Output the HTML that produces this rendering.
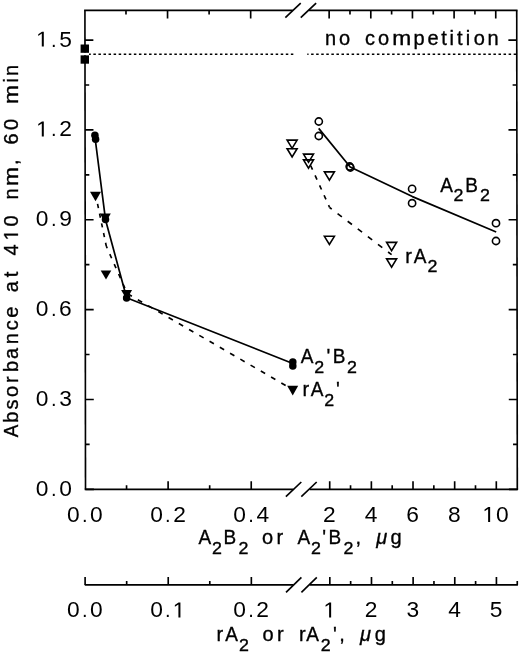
<!DOCTYPE html>
<html><head><meta charset="utf-8"><style>
html,body{margin:0;padding:0;background:#fff;width:520px;height:652px;overflow:hidden}
svg{display:block;filter:grayscale(1)}
</style></head><body>
<svg width="520" height="652" viewBox="0 0 520 652">
<rect width="520" height="652" fill="#fff"/>
<g transform="translate(-0.5872,0) skewX(0.06875)">
<g stroke="#000" stroke-width="1.65" fill="none" stroke-linecap="butt">
<path d="M85.5,10.4 V489.3"/>
<path d="M517.3,10.4 V489.3"/>
<path d="M84.675,10.4 H293.3 M309.6,10.4 H518.125"/>
<path d="M285.90000000000003,17.7 L301.3,3.1000000000000005"/>
<path d="M301.3,17.7 L316.7,3.1000000000000005"/>
<path d="M84.675,489.3 H293.3 M309.6,489.3 H518.125"/>
<path d="M285.90000000000003,496.6 L301.3,482.0"/>
<path d="M301.3,496.6 L316.7,482.0"/>
<path d="M85.5,489.30 h8.4 M517.3,489.30 h-8.4"/>
<path d="M85.5,444.38 h4.2 M517.3,444.38 h-4.2"/>
<path d="M85.5,399.45 h8.4 M517.3,399.45 h-8.4"/>
<path d="M85.5,354.53 h4.2 M517.3,354.53 h-4.2"/>
<path d="M85.5,309.60 h8.4 M517.3,309.60 h-8.4"/>
<path d="M85.5,264.68 h4.2 M517.3,264.68 h-4.2"/>
<path d="M85.5,219.75 h8.4 M517.3,219.75 h-8.4"/>
<path d="M85.5,174.82 h4.2 M517.3,174.82 h-4.2"/>
<path d="M85.5,129.90 h8.4 M517.3,129.90 h-8.4"/>
<path d="M85.5,84.98 h4.2 M517.3,84.98 h-4.2"/>
<path d="M85.5,40.05 h8.4 M517.3,40.05 h-8.4"/>
<path d="M126.56,489.3 v-4 M126.56,10.4 v4"/>
<path d="M168.12,489.3 v-8 M168.12,10.4 v8"/>
<path d="M209.68,489.3 v-4 M209.68,10.4 v4"/>
<path d="M251.24,489.3 v-8 M251.24,10.4 v8"/>
<path d="M329.72,489.3 v-8 M329.72,10.4 v8"/>
<path d="M350.55,489.3 v-4 M350.55,10.4 v4"/>
<path d="M371.38,489.3 v-8 M371.38,10.4 v8"/>
<path d="M392.20,489.3 v-4 M392.20,10.4 v4"/>
<path d="M413.02,489.3 v-8 M413.02,10.4 v8"/>
<path d="M433.85,489.3 v-4 M433.85,10.4 v4"/>
<path d="M454.67,489.3 v-8 M454.67,10.4 v8"/>
<path d="M475.50,489.3 v-4 M475.50,10.4 v4"/>
<path d="M496.32,489.3 v-8 M496.32,10.4 v8"/>
</g>
<g stroke="#000" stroke-width="1.65" fill="none">
<path d="M84.675,584.9 H293.3 M309.6,584.9 H517.8"/>
<path d="M285.90000000000003,592.4 L301.3,577.4"/>
<path d="M301.3,592.4 L316.7,577.4"/>
<path d="M85.00,584.9 v-8"/>
<path d="M126.56,584.9 v-4"/>
<path d="M168.12,584.9 v-8"/>
<path d="M209.68,584.9 v-4"/>
<path d="M251.24,584.9 v-8"/>
<path d="M329.72,584.9 v-8"/>
<path d="M350.55,584.9 v-4"/>
<path d="M371.38,584.9 v-8"/>
<path d="M392.20,584.9 v-4"/>
<path d="M413.02,584.9 v-8"/>
<path d="M433.85,584.9 v-4"/>
<path d="M454.67,584.9 v-8"/>
<path d="M475.50,584.9 v-4"/>
<path d="M496.32,584.9 v-8"/>
<path d="M517.15,584.9 v-4"/>
</g>
</g>
<g fill="#000">
<text font-family="Liberation Sans, sans-serif" stroke="#000" stroke-width="0.0" font-size="21.5" transform="translate(42.100,495.800) scale(1.06,1.0)" x="-5.979">0</text>
<text font-family="Liberation Sans, sans-serif" stroke="#000" stroke-width="0.0" font-size="20" transform="translate(53.800,495.800)" x="-2.778">.</text>
<text font-family="Liberation Sans, sans-serif" stroke="#000" stroke-width="0.0" font-size="21.5" transform="translate(65.500,495.800) scale(1.06,1.0)" x="-5.979">0</text>
<text font-family="Liberation Sans, sans-serif" stroke="#000" stroke-width="0.0" font-size="21.5" transform="translate(42.100,405.950) scale(1.06,1.0)" x="-5.979">0</text>
<text font-family="Liberation Sans, sans-serif" stroke="#000" stroke-width="0.0" font-size="20" transform="translate(53.800,405.950)" x="-2.778">.</text>
<text font-family="Liberation Sans, sans-serif" stroke="#000" stroke-width="0.0" font-size="21.5" transform="translate(65.500,405.950) scale(1.06,1.0)" x="-5.916">3</text>
<text font-family="Liberation Sans, sans-serif" stroke="#000" stroke-width="0.0" font-size="21.5" transform="translate(42.100,316.100) scale(1.06,1.0)" x="-5.979">0</text>
<text font-family="Liberation Sans, sans-serif" stroke="#000" stroke-width="0.0" font-size="20" transform="translate(53.800,316.100)" x="-2.778">.</text>
<text font-family="Liberation Sans, sans-serif" stroke="#000" stroke-width="0.0" font-size="21.5" transform="translate(65.500,316.100) scale(1.06,1.0)" x="-6.052">6</text>
<text font-family="Liberation Sans, sans-serif" stroke="#000" stroke-width="0.0" font-size="21.5" transform="translate(42.100,226.250) scale(1.06,1.0)" x="-5.979">0</text>
<text font-family="Liberation Sans, sans-serif" stroke="#000" stroke-width="0.0" font-size="20" transform="translate(53.800,226.250)" x="-2.778">.</text>
<text font-family="Liberation Sans, sans-serif" stroke="#000" stroke-width="0.0" font-size="21.5" transform="translate(65.500,226.250) scale(1.06,1.0)" x="-5.973">9</text>
<path transform="translate(36.062,136.400) scale(0.01113,-0.01050)" d="M515,0 L515,1237 L197,1010 L197,1180 L530,1409 L696,1409 L696,0 Z" stroke="#000" stroke-width="0.00"/>
<text font-family="Liberation Sans, sans-serif" stroke="#000" stroke-width="0.0" font-size="20" transform="translate(53.800,136.400)" x="-2.778">.</text>
<text font-family="Liberation Sans, sans-serif" stroke="#000" stroke-width="0.0" font-size="21.5" transform="translate(65.500,136.400) scale(1.06,1.0)" x="-5.979">2</text>
<path transform="translate(36.062,46.550) scale(0.01113,-0.01050)" d="M515,0 L515,1237 L197,1010 L197,1180 L530,1409 L696,1409 L696,0 Z" stroke="#000" stroke-width="0.00"/>
<text font-family="Liberation Sans, sans-serif" stroke="#000" stroke-width="0.0" font-size="20" transform="translate(53.800,46.550)" x="-2.778">.</text>
<text font-family="Liberation Sans, sans-serif" stroke="#000" stroke-width="0.0" font-size="21.5" transform="translate(65.500,46.550) scale(1.06,1.0)" x="-5.958">5</text>
<text font-family="Liberation Sans, sans-serif" stroke="#000" stroke-width="0.0" font-size="21.5" transform="translate(73.400,521.900) scale(1.06,1.0)" x="-5.979">0</text>
<text font-family="Liberation Sans, sans-serif" stroke="#000" stroke-width="0.0" font-size="20" transform="translate(84.700,521.900)" x="-2.778">.</text>
<text font-family="Liberation Sans, sans-serif" stroke="#000" stroke-width="0.0" font-size="21.5" transform="translate(96.450,521.900) scale(1.06,1.0)" x="-5.979">0</text>
<text font-family="Liberation Sans, sans-serif" stroke="#000" stroke-width="0.0" font-size="21.5" transform="translate(156.520,521.900) scale(1.06,1.0)" x="-5.979">0</text>
<text font-family="Liberation Sans, sans-serif" stroke="#000" stroke-width="0.0" font-size="20" transform="translate(167.820,521.900)" x="-2.778">.</text>
<text font-family="Liberation Sans, sans-serif" stroke="#000" stroke-width="0.0" font-size="21.5" transform="translate(179.570,521.900) scale(1.06,1.0)" x="-5.979">2</text>
<text font-family="Liberation Sans, sans-serif" stroke="#000" stroke-width="0.0" font-size="21.5" transform="translate(239.640,521.900) scale(1.06,1.0)" x="-5.979">0</text>
<text font-family="Liberation Sans, sans-serif" stroke="#000" stroke-width="0.0" font-size="20" transform="translate(250.940,521.900)" x="-2.778">.</text>
<text font-family="Liberation Sans, sans-serif" stroke="#000" stroke-width="0.0" font-size="21.5" transform="translate(262.690,521.900) scale(1.06,1.0)" x="-5.910">4</text>
<text font-family="Liberation Sans, sans-serif" stroke="#000" stroke-width="0.0" font-size="21.5" transform="translate(329.425,521.900) scale(1.06,1.0)" x="-5.979">2</text>
<text font-family="Liberation Sans, sans-serif" stroke="#000" stroke-width="0.0" font-size="21.5" transform="translate(371.075,521.900) scale(1.06,1.0)" x="-5.910">4</text>
<text font-family="Liberation Sans, sans-serif" stroke="#000" stroke-width="0.0" font-size="21.5" transform="translate(412.725,521.900) scale(1.06,1.0)" x="-6.052">6</text>
<text font-family="Liberation Sans, sans-serif" stroke="#000" stroke-width="0.0" font-size="21.5" transform="translate(454.375,521.900) scale(1.06,1.0)" x="-5.979">8</text>
<path transform="translate(482.387,521.900) scale(0.01113,-0.01050)" d="M515,0 L515,1237 L197,1010 L197,1180 L530,1409 L696,1409 L696,0 Z" stroke="#000" stroke-width="0.00"/>
<text font-family="Liberation Sans, sans-serif" stroke="#000" stroke-width="0.0" font-size="21.5" transform="translate(502.225,521.900) scale(1.06,1.0)" x="-5.979">0</text>
<text font-family="Liberation Sans, sans-serif" stroke="#000" stroke-width="0.0" font-size="21.5" transform="translate(73.400,617.400) scale(1.06,1.0)" x="-5.979">0</text>
<text font-family="Liberation Sans, sans-serif" stroke="#000" stroke-width="0.0" font-size="20" transform="translate(84.700,617.400)" x="-2.778">.</text>
<text font-family="Liberation Sans, sans-serif" stroke="#000" stroke-width="0.0" font-size="21.5" transform="translate(96.450,617.400) scale(1.06,1.0)" x="-5.979">0</text>
<text font-family="Liberation Sans, sans-serif" stroke="#000" stroke-width="0.0" font-size="21.5" transform="translate(156.520,617.400) scale(1.06,1.0)" x="-5.979">0</text>
<text font-family="Liberation Sans, sans-serif" stroke="#000" stroke-width="0.0" font-size="20" transform="translate(167.820,617.400)" x="-2.778">.</text>
<path transform="translate(172.682,617.400) scale(0.01113,-0.01050)" d="M515,0 L515,1237 L197,1010 L197,1180 L530,1409 L696,1409 L696,0 Z" stroke="#000" stroke-width="0.00"/>
<text font-family="Liberation Sans, sans-serif" stroke="#000" stroke-width="0.0" font-size="21.5" transform="translate(239.640,617.400) scale(1.06,1.0)" x="-5.979">0</text>
<text font-family="Liberation Sans, sans-serif" stroke="#000" stroke-width="0.0" font-size="20" transform="translate(250.940,617.400)" x="-2.778">.</text>
<text font-family="Liberation Sans, sans-serif" stroke="#000" stroke-width="0.0" font-size="21.5" transform="translate(262.690,617.400) scale(1.06,1.0)" x="-5.979">2</text>
<path transform="translate(323.387,617.400) scale(0.01113,-0.01050)" d="M515,0 L515,1237 L197,1010 L197,1180 L530,1409 L696,1409 L696,0 Z" stroke="#000" stroke-width="0.00"/>
<text font-family="Liberation Sans, sans-serif" stroke="#000" stroke-width="0.0" font-size="21.5" transform="translate(371.175,617.400) scale(1.06,1.0)" x="-5.979">2</text>
<text font-family="Liberation Sans, sans-serif" stroke="#000" stroke-width="0.0" font-size="21.5" transform="translate(412.825,617.400) scale(1.06,1.0)" x="-5.916">3</text>
<text font-family="Liberation Sans, sans-serif" stroke="#000" stroke-width="0.0" font-size="21.5" transform="translate(454.475,617.400) scale(1.06,1.0)" x="-5.910">4</text>
<text font-family="Liberation Sans, sans-serif" stroke="#000" stroke-width="0.0" font-size="21.5" transform="translate(496.125,617.400) scale(1.06,1.0)" x="-5.958">5</text>
</g>
<g fill="#000">
<text font-family="Liberation Sans, sans-serif" stroke="#000" stroke-width="0.35" font-size="20" transform="translate(17.900,430.900) rotate(-90) scale(0.95,1.045)" x="-6.670">A</text>
<text font-family="Liberation Sans, sans-serif" stroke="#000" stroke-width="0.35" font-size="20" transform="translate(17.900,417.000) rotate(-90)" x="-5.786">b</text>
<text font-family="Liberation Sans, sans-serif" stroke="#000" stroke-width="0.35" font-size="20" transform="translate(17.900,404.600) rotate(-90)" x="-4.917">s</text>
<text font-family="Liberation Sans, sans-serif" stroke="#000" stroke-width="0.35" font-size="20" transform="translate(17.900,391.400) rotate(-90)" x="-5.562">o</text>
<text font-family="Liberation Sans, sans-serif" stroke="#000" stroke-width="0.35" font-size="20" transform="translate(17.900,379.250) rotate(-90)" x="-3.828">r</text>
<text font-family="Liberation Sans, sans-serif" stroke="#000" stroke-width="0.35" font-size="20" transform="translate(17.900,366.300) rotate(-90)" x="-5.786">b</text>
<text font-family="Liberation Sans, sans-serif" stroke="#000" stroke-width="0.35" font-size="20" transform="translate(17.900,352.900) rotate(-90)" x="-5.986">a</text>
<text font-family="Liberation Sans, sans-serif" stroke="#000" stroke-width="0.35" font-size="20" transform="translate(17.900,338.600) rotate(-90)" x="-5.576">n</text>
<text font-family="Liberation Sans, sans-serif" stroke="#000" stroke-width="0.35" font-size="20" transform="translate(17.900,325.050) rotate(-90)" x="-5.161">c</text>
<text font-family="Liberation Sans, sans-serif" stroke="#000" stroke-width="0.35" font-size="20" transform="translate(17.900,312.200) rotate(-90)" x="-5.542">e</text>
<text font-family="Liberation Sans, sans-serif" stroke="#000" stroke-width="0.35" font-size="20" transform="translate(17.900,286.300) rotate(-90)" x="-5.986">a</text>
<text font-family="Liberation Sans, sans-serif" stroke="#000" stroke-width="0.35" font-size="20" transform="translate(17.900,274.400) rotate(-90)" x="-2.856">t</text>
<text font-family="Liberation Sans, sans-serif" stroke="#000" stroke-width="0.35" font-size="20" transform="translate(17.900,249.900) rotate(-90)" x="-5.498">4</text>
<path transform="translate(17.9,234.6) rotate(-90) translate(-5.913,0) scale(0.00977,-0.00977)" d="M515,0 L515,1237 L197,1010 L197,1180 L530,1409 L696,1409 L696,0 Z" stroke="#000" stroke-width="35.84"/>
<text font-family="Liberation Sans, sans-serif" stroke="#000" stroke-width="0.35" font-size="20" transform="translate(17.900,220.900) rotate(-90)" x="-5.562">0</text>
<text font-family="Liberation Sans, sans-serif" stroke="#000" stroke-width="0.35" font-size="20" transform="translate(17.900,194.000) rotate(-90)" x="-5.576">n</text>
<text font-family="Liberation Sans, sans-serif" stroke="#000" stroke-width="0.35" font-size="20" transform="translate(17.900,176.550) rotate(-90) scale(1.14,1.0)" x="-8.335">m</text>
<text font-family="Liberation Sans, sans-serif" stroke="#000" stroke-width="0.35" font-size="20" transform="translate(17.900,162.300) rotate(-90)" x="-2.778">,</text>
<text font-family="Liberation Sans, sans-serif" stroke="#000" stroke-width="0.35" font-size="20" transform="translate(17.900,138.750) rotate(-90)" x="-5.630">6</text>
<text font-family="Liberation Sans, sans-serif" stroke="#000" stroke-width="0.35" font-size="20" transform="translate(17.900,124.500) rotate(-90)" x="-5.562">0</text>
<text font-family="Liberation Sans, sans-serif" stroke="#000" stroke-width="0.35" font-size="20" transform="translate(17.900,94.500) rotate(-90) scale(1.14,1.0)" x="-8.335">m</text>
<text font-family="Liberation Sans, sans-serif" stroke="#000" stroke-width="0.35" font-size="20" transform="translate(17.900,80.250) rotate(-90)" x="-2.217">i</text>
<text font-family="Liberation Sans, sans-serif" stroke="#000" stroke-width="0.35" font-size="20" transform="translate(17.900,70.350) rotate(-90)" x="-5.576">n</text>
</g>
<g fill="#000">
<text font-family="Liberation Sans, sans-serif" stroke="#000" stroke-width="0.35" font-size="20" transform="translate(204.850,543.900) scale(0.95,1.045)" x="-6.670">A</text>
<text font-family="Liberation Sans, sans-serif" stroke="#000" stroke-width="0.35" font-size="16.2" transform="translate(216.900,553.600) scale(1.1,1.0)" x="-4.505">2</text>
<text font-family="Liberation Sans, sans-serif" stroke="#000" stroke-width="0.35" font-size="20" transform="translate(230.100,543.900) scale(0.95,1.045)" x="-6.963">B</text>
<text font-family="Liberation Sans, sans-serif" stroke="#000" stroke-width="0.35" font-size="16.2" transform="translate(243.400,553.600) scale(1.1,1.0)" x="-4.505">2</text>
<text font-family="Liberation Sans, sans-serif" stroke="#000" stroke-width="0.35" font-size="20" transform="translate(267.650,543.900)" x="-5.562">o</text>
<text font-family="Liberation Sans, sans-serif" stroke="#000" stroke-width="0.35" font-size="20" transform="translate(280.400,543.900)" x="-3.828">r</text>
<text font-family="Liberation Sans, sans-serif" stroke="#000" stroke-width="0.35" font-size="20" transform="translate(303.800,543.900) scale(0.95,1.045)" x="-6.670">A</text>
<text font-family="Liberation Sans, sans-serif" stroke="#000" stroke-width="0.35" font-size="16.2" transform="translate(315.900,553.600) scale(1.1,1.0)" x="-4.505">2</text>
<text font-family="Liberation Sans, sans-serif" stroke="#000" stroke-width="0.35" font-size="20" transform="translate(324.100,543.900)" x="-1.914">&#39;</text>
<text font-family="Liberation Sans, sans-serif" stroke="#000" stroke-width="0.35" font-size="20" transform="translate(335.200,543.900) scale(0.95,1.045)" x="-6.963">B</text>
<text font-family="Liberation Sans, sans-serif" stroke="#000" stroke-width="0.35" font-size="16.2" transform="translate(348.500,553.600) scale(1.1,1.0)" x="-4.505">2</text>
<text font-family="Liberation Sans, sans-serif" stroke="#000" stroke-width="0.35" font-size="20" transform="translate(358.300,543.900)" x="-2.778">,</text>
<text font-family="Liberation Sans, sans-serif" stroke="#000" stroke-width="0.35" font-size="20" font-style="italic" transform="translate(381.400,543.900)" x="-5.107">μ</text>
<text font-family="Liberation Sans, sans-serif" stroke="#000" stroke-width="0.35" font-size="20" transform="translate(395.900,543.900)" x="-5.337">g</text>
<text font-family="Liberation Sans, sans-serif" stroke="#000" stroke-width="0.35" font-size="20" transform="translate(220.400,640.800)" x="-3.828">r</text>
<text font-family="Liberation Sans, sans-serif" stroke="#000" stroke-width="0.35" font-size="20" transform="translate(231.500,640.800) scale(0.95,1.045)" x="-6.670">A</text>
<text font-family="Liberation Sans, sans-serif" stroke="#000" stroke-width="0.35" font-size="16.2" transform="translate(244.000,650.600) scale(1.1,1.0)" x="-4.505">2</text>
<text font-family="Liberation Sans, sans-serif" stroke="#000" stroke-width="0.35" font-size="20" transform="translate(268.000,640.800)" x="-5.562">o</text>
<text font-family="Liberation Sans, sans-serif" stroke="#000" stroke-width="0.35" font-size="20" transform="translate(280.800,640.800)" x="-3.828">r</text>
<text font-family="Liberation Sans, sans-serif" stroke="#000" stroke-width="0.35" font-size="20" transform="translate(302.700,640.800)" x="-3.828">r</text>
<text font-family="Liberation Sans, sans-serif" stroke="#000" stroke-width="0.35" font-size="20" transform="translate(312.500,640.800) scale(0.95,1.045)" x="-6.670">A</text>
<text font-family="Liberation Sans, sans-serif" stroke="#000" stroke-width="0.35" font-size="16.2" transform="translate(325.750,650.600) scale(1.1,1.0)" x="-4.505">2</text>
<text font-family="Liberation Sans, sans-serif" stroke="#000" stroke-width="0.35" font-size="20" transform="translate(334.900,640.800)" x="-1.914">&#39;</text>
<text font-family="Liberation Sans, sans-serif" stroke="#000" stroke-width="0.35" font-size="20" transform="translate(342.100,640.800)" x="-2.778">,</text>
<text font-family="Liberation Sans, sans-serif" stroke="#000" stroke-width="0.35" font-size="20" font-style="italic" transform="translate(365.200,640.800)" x="-5.107">μ</text>
<text font-family="Liberation Sans, sans-serif" stroke="#000" stroke-width="0.35" font-size="20" transform="translate(380.100,640.800)" x="-5.337">g</text>
</g>
<path d="M88.29,54.35 H517.3" stroke="#000" stroke-width="1.5" stroke-dasharray="2.5 2.564" fill="none"/>
<rect x="293.9" y="51" width="13.4" height="7" fill="#fff"/>
<g fill="#000">
<text font-family="Liberation Sans, sans-serif" stroke="#000" stroke-width="0.35" font-size="20" transform="translate(330.450,45.000)" x="-5.576">n</text>
<text font-family="Liberation Sans, sans-serif" stroke="#000" stroke-width="0.35" font-size="20" transform="translate(344.550,45.000)" x="-5.562">o</text>
<text font-family="Liberation Sans, sans-serif" stroke="#000" stroke-width="0.35" font-size="20" transform="translate(370.100,45.000)" x="-5.161">c</text>
<text font-family="Liberation Sans, sans-serif" stroke="#000" stroke-width="0.35" font-size="20" transform="translate(383.450,45.000)" x="-5.562">o</text>
<text font-family="Liberation Sans, sans-serif" stroke="#000" stroke-width="0.35" font-size="20" transform="translate(401.650,45.000) scale(1.14,1.0)" x="-8.335">m</text>
<text font-family="Liberation Sans, sans-serif" stroke="#000" stroke-width="0.35" font-size="20" transform="translate(419.350,45.000)" x="-5.786">p</text>
<text font-family="Liberation Sans, sans-serif" stroke="#000" stroke-width="0.35" font-size="20" transform="translate(433.100,45.000)" x="-5.542">e</text>
<text font-family="Liberation Sans, sans-serif" stroke="#000" stroke-width="0.35" font-size="20" transform="translate(444.000,45.000)" x="-2.856">t</text>
<text font-family="Liberation Sans, sans-serif" stroke="#000" stroke-width="0.35" font-size="20" transform="translate(451.800,45.000)" x="-2.217">i</text>
<text font-family="Liberation Sans, sans-serif" stroke="#000" stroke-width="0.35" font-size="20" transform="translate(459.900,45.000)" x="-2.856">t</text>
<text font-family="Liberation Sans, sans-serif" stroke="#000" stroke-width="0.35" font-size="20" transform="translate(468.000,45.000)" x="-2.217">i</text>
<text font-family="Liberation Sans, sans-serif" stroke="#000" stroke-width="0.35" font-size="20" transform="translate(479.200,45.000)" x="-5.562">o</text>
<text font-family="Liberation Sans, sans-serif" stroke="#000" stroke-width="0.35" font-size="20" transform="translate(493.100,45.000)" x="-5.576">n</text>
</g>
<path d="M95.00,137.30 L105.50,219.70 L126.60,297.70 L292.80,363.50" fill="none" stroke="#000" stroke-width="1.7" stroke-linejoin="round"/>
<path d="M318.70,128.40 L350.20,167.00 L412.40,196.60 L496.20,232.00" fill="none" stroke="#000" stroke-width="1.7" stroke-linejoin="round"/>
<path d="M96.00,196.40 L106.30,246.20" fill="none" stroke="#000" stroke-width="1.65" stroke-dasharray="4.2 5.7" stroke-dashoffset="2.2"/>
<path d="M106.30,246.20 L127.30,293.60" fill="none" stroke="#000" stroke-width="1.65" stroke-dasharray="4.5 6.4" stroke-dashoffset="2.25"/>
<path d="M127.30,293.60 L292.80,389.60" fill="none" stroke="#000" stroke-width="1.65" stroke-dasharray="5.0 6.85" stroke-dashoffset="11.55"/>
<path d="M308.60,161.00 L329.60,207.50" fill="none" stroke="#000" stroke-width="1.65" stroke-dasharray="4.6 6.3" stroke-dashoffset="6.0"/>
<path d="M329.60,207.50 L391.60,254.70" fill="none" stroke="#000" stroke-width="1.65" stroke-dasharray="5.4 7.3" stroke-dashoffset="2.7"/>
<rect x="80.6" y="44.50" width="8.4" height="8.4" fill="#000"/>
<rect x="80.6" y="55.30" width="8.4" height="8.4" fill="#000"/>
<rect x="80.6" y="52.9" width="8.4" height="2.2" fill="#fff"/>
<circle cx="94.90" cy="135.30" r="3.75" fill="#000"/>
<circle cx="95.60" cy="139.20" r="3.75" fill="#000"/>
<circle cx="105.50" cy="219.60" r="3.75" fill="#000"/>
<circle cx="126.60" cy="298.00" r="3.75" fill="#000"/>
<circle cx="292.80" cy="362.00" r="3.75" fill="#000"/>
<circle cx="292.80" cy="366.00" r="3.75" fill="#000"/>
<polygon points="90.00,191.70 101.00,191.70 95.50,201.30" fill="#000"/>
<polygon points="99.80,213.40 110.80,213.40 105.30,223.00" fill="#000"/>
<polygon points="121.10,289.90 132.10,289.90 126.60,299.50" fill="#000"/>
<polygon points="287.20,385.80 298.20,385.80 292.70,395.40" fill="#000"/>
<polygon points="100.70,270.40 111.30,270.40 106.00,279.40" fill="#000"/>
<circle cx="318.80" cy="121.50" r="3.6" fill="none" stroke="#000" stroke-width="1.6"/>
<circle cx="318.80" cy="136.00" r="3.6" fill="none" stroke="#000" stroke-width="1.6"/>
<circle cx="349.70" cy="166.50" r="3.6" fill="none" stroke="#000" stroke-width="1.6"/>
<circle cx="350.40" cy="167.50" r="3.6" fill="none" stroke="#000" stroke-width="1.6"/>
<circle cx="412.10" cy="188.90" r="3.6" fill="none" stroke="#000" stroke-width="1.6"/>
<circle cx="412.10" cy="203.20" r="3.6" fill="none" stroke="#000" stroke-width="1.6"/>
<circle cx="496.00" cy="223.20" r="3.6" fill="none" stroke="#000" stroke-width="1.6"/>
<circle cx="496.00" cy="241.00" r="3.6" fill="none" stroke="#000" stroke-width="1.6"/>
<polygon points="287.10,140.10 297.10,140.10 292.10,148.30" fill="none" stroke="#000" stroke-width="1.6" stroke-linejoin="miter"/>
<polygon points="287.10,148.70 297.10,148.70 292.10,156.90" fill="none" stroke="#000" stroke-width="1.6" stroke-linejoin="miter"/>
<polygon points="303.50,154.10 313.50,154.10 308.50,162.30" fill="none" stroke="#000" stroke-width="1.6" stroke-linejoin="miter"/>
<polygon points="303.50,159.90 313.50,159.90 308.50,168.10" fill="none" stroke="#000" stroke-width="1.6" stroke-linejoin="miter"/>
<polygon points="324.40,171.90 334.40,171.90 329.40,180.10" fill="none" stroke="#000" stroke-width="1.6" stroke-linejoin="miter"/>
<polygon points="324.40,236.30 334.40,236.30 329.40,244.50" fill="none" stroke="#000" stroke-width="1.6" stroke-linejoin="miter"/>
<polygon points="386.60,242.40 396.60,242.40 391.60,250.60" fill="none" stroke="#000" stroke-width="1.6" stroke-linejoin="miter"/>
<polygon points="386.60,258.90 396.60,258.90 391.60,267.10" fill="none" stroke="#000" stroke-width="1.6" stroke-linejoin="miter"/>
<g fill="#000">
<text font-family="Liberation Sans, sans-serif" stroke="#000" stroke-width="0.35" font-size="20" transform="translate(446.550,191.700) scale(0.95,1.045)" x="-6.670">A</text>
<text font-family="Liberation Sans, sans-serif" stroke="#000" stroke-width="0.35" font-size="16.2" transform="translate(458.550,201.300) scale(1.1,1.0)" x="-4.505">2</text>
<text font-family="Liberation Sans, sans-serif" stroke="#000" stroke-width="0.35" font-size="20" transform="translate(471.750,191.700) scale(0.95,1.045)" x="-6.963">B</text>
<text font-family="Liberation Sans, sans-serif" stroke="#000" stroke-width="0.35" font-size="16.2" transform="translate(485.050,201.300) scale(1.1,1.0)" x="-4.505">2</text>
<text font-family="Liberation Sans, sans-serif" stroke="#000" stroke-width="0.35" font-size="20" transform="translate(409.050,262.600)" x="-3.828">r</text>
<text font-family="Liberation Sans, sans-serif" stroke="#000" stroke-width="0.35" font-size="20" transform="translate(420.100,262.600) scale(0.95,1.045)" x="-6.670">A</text>
<text font-family="Liberation Sans, sans-serif" stroke="#000" stroke-width="0.35" font-size="16.2" transform="translate(432.450,272.000) scale(1.1,1.0)" x="-4.505">2</text>
<text font-family="Liberation Sans, sans-serif" stroke="#000" stroke-width="0.35" font-size="20" transform="translate(307.200,363.400) scale(0.95,1.045)" x="-6.670">A</text>
<text font-family="Liberation Sans, sans-serif" stroke="#000" stroke-width="0.35" font-size="16.2" transform="translate(319.200,373.300) scale(1.1,1.0)" x="-4.505">2</text>
<text font-family="Liberation Sans, sans-serif" stroke="#000" stroke-width="0.35" font-size="20" transform="translate(328.300,363.400)" x="-1.914">&#39;</text>
<text font-family="Liberation Sans, sans-serif" stroke="#000" stroke-width="0.35" font-size="20" transform="translate(339.250,363.400) scale(0.95,1.045)" x="-6.963">B</text>
<text font-family="Liberation Sans, sans-serif" stroke="#000" stroke-width="0.35" font-size="16.2" transform="translate(352.000,373.300) scale(1.1,1.0)" x="-4.505">2</text>
<text font-family="Liberation Sans, sans-serif" stroke="#000" stroke-width="0.35" font-size="20" transform="translate(306.350,396.300)" x="-3.828">r</text>
<text font-family="Liberation Sans, sans-serif" stroke="#000" stroke-width="0.35" font-size="20" transform="translate(317.150,396.300) scale(0.95,1.045)" x="-6.670">A</text>
<text font-family="Liberation Sans, sans-serif" stroke="#000" stroke-width="0.35" font-size="16.2" transform="translate(329.150,406.400) scale(1.1,1.0)" x="-4.505">2</text>
<text font-family="Liberation Sans, sans-serif" stroke="#000" stroke-width="0.35" font-size="20" transform="translate(338.000,396.300)" x="-1.914">&#39;</text>
</g>
</svg>
</body></html>
